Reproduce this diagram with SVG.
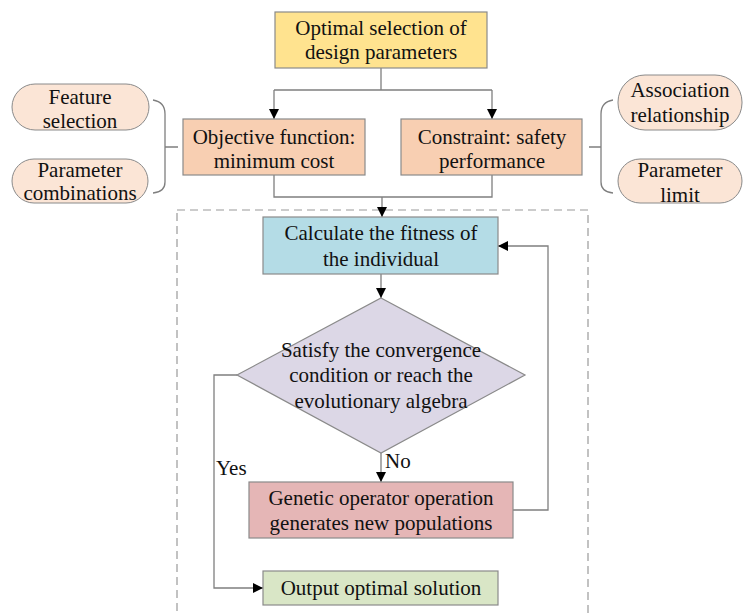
<svg xmlns="http://www.w3.org/2000/svg" width="745" height="613" viewBox="0 0 745 613" font-family="Liberation Serif, DejaVu Serif, serif">
<style>
text{font-family:'Liberation Serif','DejaVu Serif',serif;font-size:21px;fill:#111;text-anchor:middle}
.box{stroke:#8a8a8a;stroke-width:1.2}
.ln{fill:none;stroke:#7f7f7f;stroke-width:1.3}
.arr{fill:none;stroke:#7f7f7f;stroke-width:1.3;marker-end:url(#ah)}
.pill{fill:#fbe5d6;stroke:#8a8a8a;stroke-width:1}
</style>
<defs>
<marker id="ah" viewBox="0 0 10 10" refX="10" refY="5" markerWidth="10" markerHeight="10" markerUnits="userSpaceOnUse" orient="auto">
<path d="M0,0 L10,5 L0,10 Z" fill="#000"/>
</marker>
</defs>
<rect x="0" y="0" width="745" height="613" fill="#fff"/>
<g id="container">
<rect x="177" y="210" width="411" height="420" fill="none" stroke="#9a9a9a" stroke-width="1.2" stroke-dasharray="8,5"/>
</g>
<g id="connectors">
<path class="ln" d="M381,68 V90 M274,90 H492"/>
<path class="arr" d="M274,90 V119"/>
<path class="arr" d="M492,90 V119"/>
<path class="ln" d="M274,175 V197 H492 V175"/>
<path class="arr" d="M382,197 V217"/>
<path class="arr" d="M381,274 V298"/>
<path class="arr" d="M381,453 V482"/>
<path class="arr" d="M513,510 H548 V246 H498"/>
<path class="arr" d="M237,375 H214 V588 H263"/>
<path class="ln" d="M153,100 Q165,102 165,114 V182 Q165,192 153,193 M165,147 H178"/>
<path class="ln" d="M613,100 Q601,102 601,114 V182 Q601,192 613,193 M589,147 H601"/>
</g>
<g id="n-top">
<rect class="box" x="275" y="12" width="212" height="56" fill="#ffe38f"/>
<text x="381" y="35">Optimal selection of</text>
<text x="381" y="59">design parameters</text>
</g>
<g id="n-objective">
<rect class="box" x="183" y="119" width="182" height="56" fill="#f8cfb2"/>
<text x="274" y="144">Objective function:</text>
<text x="274" y="168">minimum cost</text>
</g>
<g id="n-constraint">
<rect class="box" x="401" y="119" width="181" height="56" fill="#f8cfb2"/>
<text x="492" y="144">Constraint: safety</text>
<text x="492" y="168">performance</text>
</g>
<g id="n-feature">
<rect class="pill" x="12" y="84" width="137" height="46" rx="23"/>
<text x="80" y="104">Feature</text>
<text x="80" y="128">selection</text>
</g>
<g id="n-combinations">
<rect class="pill" x="12" y="159" width="136" height="44" rx="22"/>
<text x="80" y="177">Parameter</text>
<text x="80" y="200">combinations</text>
</g>
<g id="n-association">
<rect class="pill" x="618" y="75" width="124" height="55" rx="27"/>
<text x="680" y="97">Association</text>
<text x="680" y="122">relationship</text>
</g>
<g id="n-limit">
<rect class="pill" x="618" y="159" width="124" height="44" rx="22"/>
<text x="680" y="177">Parameter</text>
<text x="680" y="202">limit</text>
</g>
<g id="n-fitness">
<rect class="box" x="263" y="217" width="235" height="57" fill="#b4dce6"/>
<text x="381" y="240">Calculate the fitness of</text>
<text x="381" y="266">the individual</text>
</g>
<g id="n-decision">
<polygon class="box" points="381,298 525,375 381,453 237,375" fill="#dcd7e6"/>
<text x="381" y="357">Satisfy the convergence</text>
<text x="381" y="382">condition or reach the</text>
<text x="381" y="408">evolutionary algebra</text>
</g>
<g id="n-genetic">
<rect class="box" x="249" y="482" width="264" height="56" fill="#e5b6b6"/>
<text x="381" y="505">Genetic operator operation</text>
<text x="381" y="530">generates new populations</text>
</g>
<g id="n-output">
<rect class="box" x="263" y="571" width="235" height="34" fill="#d9e6c6"/>
<text x="381" y="595">Output optimal solution</text>
</g>
<g id="labels">
<text x="385" y="468" style="text-anchor:start">No</text>
<text x="216" y="475" style="text-anchor:start">Yes</text>
</g>
</svg>
